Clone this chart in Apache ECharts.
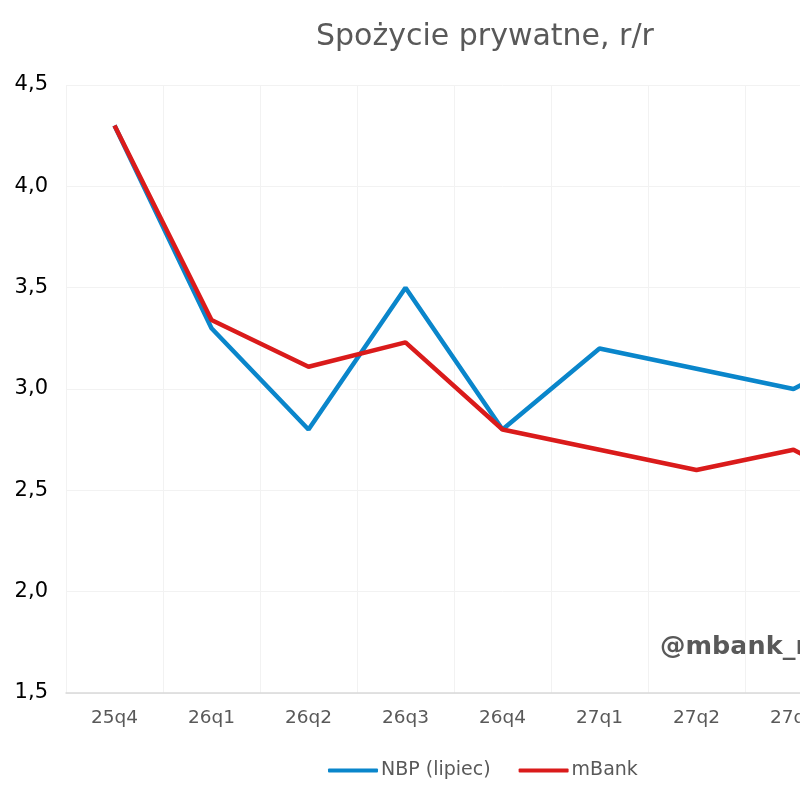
<!DOCTYPE html>
<html>
<head>
<meta charset="utf-8">
<script src="https://cdn.jsdelivr.net/npm/echarts@6/dist/echarts.min.js"></script>
<style>
  html, body { margin: 0; padding: 0; background: #fff; overflow: hidden; }
  /* wykres jest szerszy niz okno - prawa czesc ucieta jak w oryginale */
  #chart { width: 975px; height: 800px; }
</style>
</head>
<body>
<div id="chart"></div>
<script>
// kwartały (ostatni wychodzi poza kadr)
var quarters = ['25q4', '26q1', '26q2', '26q3', '26q4', '27q1', '27q2', '27q3', '27q4'];
var nbp = [4.3, 3.3, 2.8, 3.5, 2.8, 3.2, 3.1, 3.0, 3.25];
var mbank = [4.3, 3.34, 3.11, 3.23, 2.8, 2.7, 2.6, 2.7, 2.45];
var seriesNames = ['NBP (lipiec)', 'mBank'];

var chart = echarts.init(document.getElementById('chart'));
var font = 'DejaVu Sans';

var option = {
  animation: false,
  title: {
    text: 'Spożycie prywatne, r/r',
    left: 311,
    top: 17,
    textStyle: { fontFamily: font, fontSize: 30, fontWeight: 'normal', color: '#595959' }
  },
  color: ['#0A86CB', '#DA1B1B'],
  legend: {
    left: 323,
    top: 756,
    itemWidth: 50,
    itemHeight: 4,
    itemGap: 28,
    icon: 'roundRect',
    textStyle: { fontFamily: font, fontSize: 19, color: '#595959', padding: [0, 0, 0, -2] },
    data: seriesNames
  },
  grid: { left: 66, top: 85, width: 873, height: 608 },
  xAxis: {
    type: 'category',
    data: quarters,
    boundaryGap: true,
    axisLine: { lineStyle: { color: '#d9d9d9', width: 1.5 } },
    axisTick: { show: false },
    axisLabel: { fontFamily: font, fontSize: 18.5, color: '#595959', margin: 16 },
    splitLine: { show: true, lineStyle: { color: '#f2f2f2', width: 1 } }
  },
  yAxis: {
    type: 'value',
    min: 1.5,
    max: 4.5,
    interval: 0.5,
    axisLine: { show: false },
    axisTick: { show: false },
    axisLabel: {
      fontFamily: font, fontSize: 21, color: '#000', margin: 18,
      formatter: function (v) { return v.toFixed(1).replace('.', ','); }
    },
    splitLine: { lineStyle: { color: '#f2f2f2', width: 1 } }
  },
  graphic: [{
    type: 'text',
    left: 660,
    top: 634,
    style: { text: '@mbank_research', fontFamily: font, fontSize: 25.5, fontWeight: 'bold', fill: '#595959' }
  }],
  series: [
    { name: seriesNames[0], type: 'line', data: nbp, symbol: 'none', lineStyle: { width: 4.5 }, z: 2 },
    { name: seriesNames[1], type: 'line', data: mbank, symbol: 'none', lineStyle: { width: 4.5 }, z: 3 }
  ]
};
chart.setOption(option);
</script>
</body>
</html>
